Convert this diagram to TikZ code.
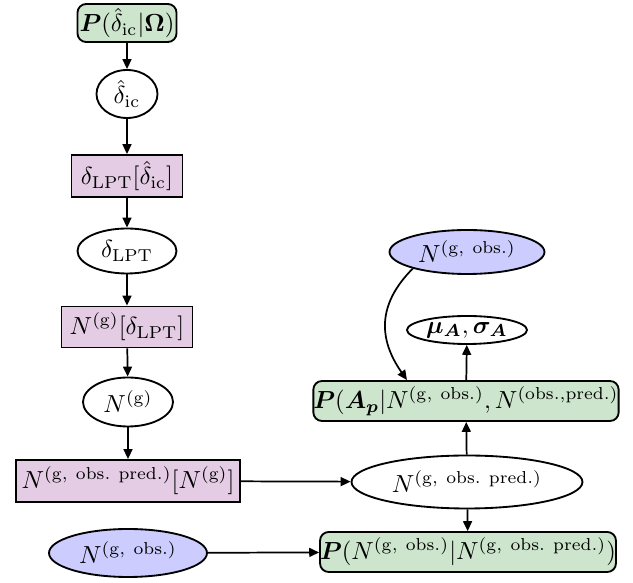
\documentclass[tikz,border=0pt]{standalone}
\usepackage{bm}
\usetikzlibrary{shapes.geometric,arrows.meta}
\definecolor{pgreen}{RGB}{204,229,204}
\definecolor{ppurp}{RGB}{229,204,229}
\definecolor{pblue}{RGB}{204,204,255}
\newcommand\pxu{0.405pt}
\tikzset{
  every node/.style={inner sep=0pt, line width=0.75pt},
  distbox/.style={draw, rounded corners=3.5pt, fill=pgreen},
  funcbox/.style={draw, fill=ppurp},
  varell/.style={draw, ellipse, fill=white},
  obsell/.style={draw, ellipse, fill=pblue},
  conn/.style={line width=0.7pt, -{Triangle[length=4pt,width=3.6pt]}},
}
\begin{document}
\begin{tikzpicture}[x=\pxu, y=\pxu]
\useasboundingbox (0,0) rectangle (633,-583);
\node[distbox, minimum width=99*\pxu, minimum height=38*\pxu] (p1) at (127,-23) {$\bm{P}(\hat{\delta}_{\rm ic}|\bm\Omega)$};
\node[varell, minimum width=61*\pxu, minimum height=48*\pxu] (ic) at (127,-94) {$\hat{\delta}_{\rm ic}$};
\node[funcbox, minimum width=111*\pxu, minimum height=42*\pxu] (b2) at (127,-176) {$\delta_{\rm LPT}[\hat{\delta}_{\rm ic}]$};
\node[varell, minimum width=99*\pxu, minimum height=45*\pxu] (dl) at (127,-251) {$\delta_{\rm LPT}$};
\node[funcbox, minimum width=131*\pxu, minimum height=41*\pxu] (b3) at (127,-327) {$N^{\rm (g)}[\delta_{\rm LPT}]$};
\node[varell, minimum width=90*\pxu, minimum height=49*\pxu] (ng) at (128,-402) {$N^{\rm (g)}$};
\node[funcbox, minimum width=224*\pxu, minimum height=42*\pxu] (b4) at (128,-481) {$N^{\rm (g,\ obs.\ pred.)}[N^{\rm (g)}]$};
\node[obsell, minimum width=158*\pxu, minimum height=48*\pxu] (no1) at (128,-553) {$N^{\rm (g,\ obs.)}$};
\node[varell, minimum width=231*\pxu, minimum height=53*\pxu] (np) at (467,-482) {$N^{\rm (g,\ obs.\ pred.)}$};
\node[distbox, minimum width=294*\pxu, minimum height=40*\pxu] (pn) at (468,-552) {$\bm P(N^{\rm (g,\ obs.)}|N^{\rm (g,\ obs.\ pred.)})$};
\node[distbox, minimum width=298*\pxu, minimum height=40*\pxu] (pa) at (466,-401) {$\bm P(\bm A_{\bm p}|N^{\rm (g,\ obs.)},N^{\rm (obs.,pred.)}$};
\node[varell, minimum width=120*\pxu, minimum height=28*\pxu] (mu) at (467,-330) {$\bm\mu_{\bm A},\bm\sigma_{\bm A}$};
\node[obsell, minimum width=155*\pxu, minimum height=44*\pxu] (no2) at (467,-252) {$N^{\rm (g,\ obs.)}$};
\coordinate (pain) at ([xshift=-59*\pxu]pa.north);
\draw[conn] (p1) -- (ic);
\draw[conn] (ic) -- (b2);
\draw[conn] (b2) -- (dl);
\draw[conn] (dl) -- (b3);
\draw[conn] (b3) -- (ng);
\draw[conn] (ng) -- (b4);
\draw[conn] (b4) -- (np);
\draw[conn] (no1) -- (pn);
\draw[conn] (np) -- (pn);
\draw[conn] (np) -- (pa);
\draw[conn] (pa) -- (mu);
\draw[conn] (no2.197) to[out=225, in=125, looseness=1.15] (pain);
\end{tikzpicture}
\end{document}
